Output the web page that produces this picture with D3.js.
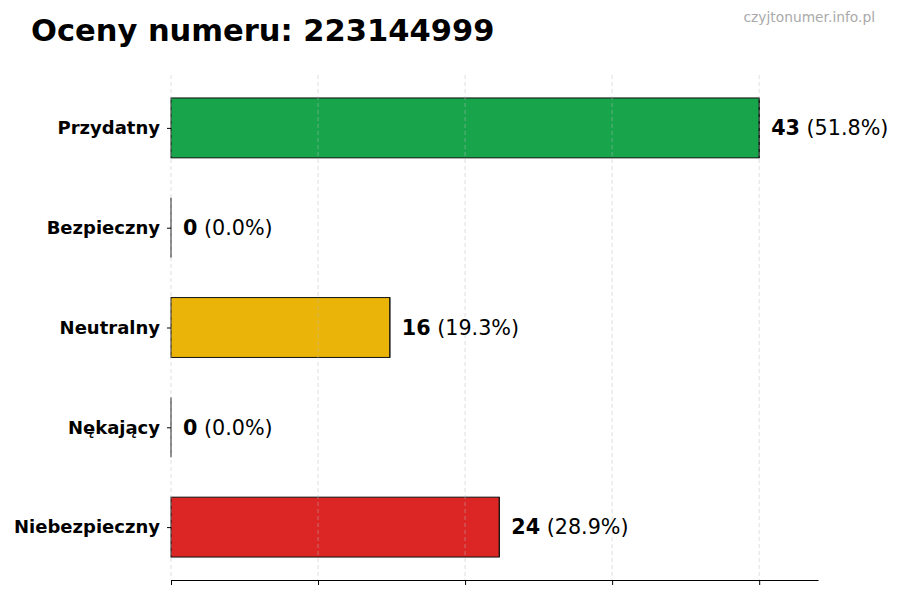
<!DOCTYPE html>
<html><head><meta charset="utf-8">
<script src="https://cdn.jsdelivr.net/npm/d3@7"></script>
<style>body{margin:0;background:#fff}svg{display:block;font-family:"DejaVu Sans",sans-serif}</style>
</head><body><svg id="c" width="900" height="600"></svg>
<script>
const categories = ["Przydatny","Bezpieczny","Neutralny","Nękający","Niebezpieczny"];
const counts = [43, 0, 16, 0, 24];
const percents = ["51.8%","0.0%","19.3%","0.0%","28.9%"];
const colors = ["#17a44a","#2563eb","#eab408","#f97316","#dc2626"];
const titleText = "Oceny numeru: 223144999";
const watermark = "czyjtonumer.info.pl";

const svg = d3.select("#c");
const L = 171, R = 818, T = 75, B = 580;
const maxV = d3.max(counts);
const x = d3.scaleLinear().domain([0, maxV * 1.1]).range([L, R]);
const y = d3.scaleLinear().domain([-0.53, 4.53]).range([T, B]);
const tickVals = d3.range(5).map(i => maxV * i / 4);

// bars
svg.append("g").selectAll("rect").data(counts).join("rect")
  .attr("x", x(0)).attr("y", (d,i) => y(i - 0.3))
  .attr("width", d => x(d) - x(0)).attr("height", y(0.3) - y(-0.3))
  .attr("fill", (d,i) => colors[i]).attr("stroke", "#111").attr("stroke-width", 1);
// zero-width bar edges
svg.append("g").selectAll("line").data(counts).join("line")
  .attr("x1", d => x(d)).attr("x2", d => x(d))
  .attr("y1", (d,i) => y(i - 0.3)).attr("y2", (d,i) => y(i + 0.3))
  .attr("stroke", "#111").attr("stroke-width", 1);

// grid on top
svg.append("g").selectAll("line").data(tickVals).join("line")
  .attr("x1", d => x(d)).attr("x2", d => x(d)).attr("y1", T).attr("y2", B)
  .attr("stroke", "#bbb").attr("stroke-opacity", 0.6).attr("stroke-dasharray", "4,3").attr("stroke-width", 0.8);

// x axis
const xa = svg.append("g").attr("transform", `translate(0,${B})`)
  .call(d3.axisBottom(x).tickValues(tickVals).tickFormat("").tickSize(5).tickSizeOuter(0));
xa.select(".domain").attr("stroke", "#000").attr("stroke-width", 1);
xa.selectAll(".tick line").attr("stroke", "#000");

// y axis ticks and labels
const ya = svg.append("g").attr("transform", `translate(${L},0)`)
  .call(d3.axisLeft(y).tickValues(d3.range(categories.length)).tickFormat(i => categories[i]).tickSize(4).tickPadding(7));
ya.select(".domain").remove();
ya.selectAll(".tick line").attr("stroke", "#000");
ya.selectAll(".tick text").attr("font-family", "DejaVu Sans").attr("font-weight", "bold").attr("font-size", 18).attr("fill", "#000");

// value labels
const vl = svg.append("g").selectAll("text").data(counts).join("text")
  .attr("x", d => x(d) + 12).attr("y", (d,i) => y(i)).attr("dy", "0.35em")
  .attr("font-size", 20.7).attr("fill", "#000");
vl.append("tspan").attr("font-weight", "bold").text(d => d);
vl.append("tspan").text((d,i) => " (" + percents[i] + ")");

// title
svg.append("text").attr("x", 31).attr("y", 41).attr("font-size", 30.5).attr("font-weight", "bold").attr("fill", "#000").text(titleText);
svg.append("text").attr("x", 875).attr("y", 22).attr("text-anchor", "end").attr("font-size", 13.8).attr("fill", "#aaa").text(watermark);
</script></body></html>
